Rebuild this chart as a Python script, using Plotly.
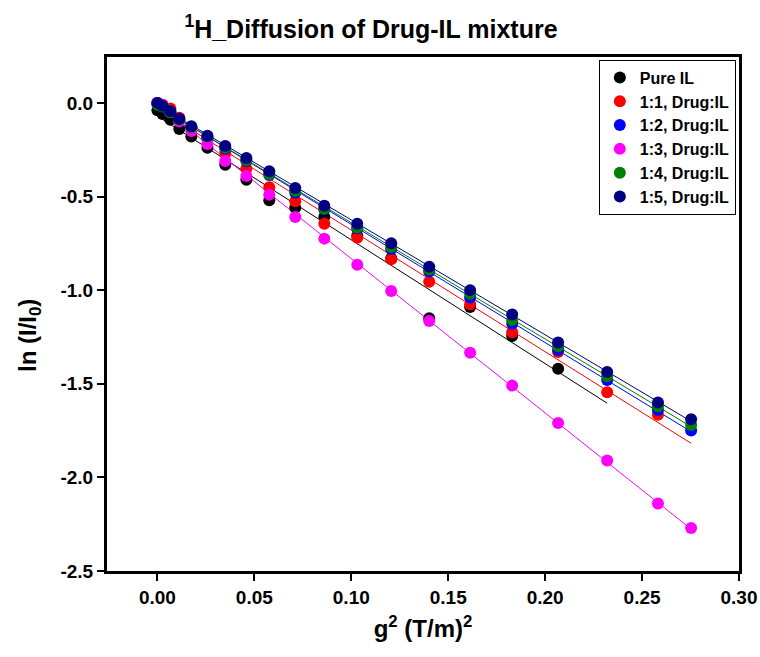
import numpy as np
import plotly.graph_objects as go

# gradient squared values (T/m)^2
g2 = [0.0, 0.0026, 0.0067, 0.0113, 0.0175, 0.0258, 0.0350, 0.0459, 0.0577, 0.0711,
      0.0861, 0.1031, 0.1206, 0.1402, 0.1613, 0.1830, 0.2067, 0.2320, 0.2582, 0.2753]

pure_il = [-0.04, -0.06, -0.09, -0.14, -0.18, -0.24, -0.33, -0.41, -0.52, -0.56,
           -0.61, -0.71, -0.83, -1.15, -1.09, -1.245, -1.42]
r_1_1 = [0.0, -0.01, -0.03, -0.08, -0.13, -0.19, -0.27, -0.35, -0.45, -0.525,
         -0.645, -0.72, -0.835, -0.955, -1.075, -1.225, -1.33, -1.545, -1.665]
r_1_2 = [0.0, -0.02, -0.05, -0.09, -0.13, -0.185, -0.245, -0.31, -0.385, -0.48,
         -0.57, -0.67, -0.78, -0.90, -1.04, -1.18, -1.32, -1.48, -1.64, -1.75]
r_1_3 = [0.0, -0.01, -0.05, -0.10, -0.15, -0.22, -0.31, -0.39, -0.49, -0.61,
         -0.725, -0.865, -1.005, -1.165, -1.335, -1.51, -1.71, -1.91, -2.14, -2.27]
r_1_4 = [-0.01, -0.02, -0.05, -0.09, -0.13, -0.18, -0.24, -0.305, -0.38, -0.47,
         -0.565, -0.665, -0.77, -0.89, -1.02, -1.16, -1.30, -1.46, -1.62, -1.72]
r_1_5 = [0.0, -0.015, -0.045, -0.085, -0.125, -0.175, -0.23, -0.295, -0.365, -0.455,
         -0.55, -0.645, -0.75, -0.875, -1.0, -1.13, -1.28, -1.437, -1.60, -1.69]

names = ["Pure IL", "1:1, Drug:IL", "1:2, Drug:IL", "1:3, Drug:IL", "1:4, Drug:IL", "1:5, Drug:IL"]
series = [pure_il, r_1_1, r_1_2, r_1_3, r_1_4, r_1_5]
colors = ["#000000", "#FF0000", "#0000FF", "#FF00FF", "#008000", "#000080"]
fit_end = [0.2320, 0.2753, 0.2753, 0.2753, 0.2753, 0.2753]

x_ticks = [0, 0.05, 0.1, 0.15, 0.2, 0.25, 0.3]
x_ticktext = ["0.00", "0.05", "0.10", "0.15", "0.20", "0.25", "0.30"]
y_ticks = [0, -0.5, -1.0, -1.5, -2.0, -2.5]
y_ticktext = ["0.0", "-0.5", "-1.0", "-1.5", "-2.0", "-2.5"]

FONT = "Liberation Sans, Arial, sans-serif"

L, R, T, B = 107, 21, 57, 86
W, H = 760, 657
PW, PH = W - L - R, H - T - B

fig = go.Figure()

# linear fit lines
for ys, c, xe in zip(series, colors, fit_end):
    xs = np.array(g2[:len(ys)])
    k, b = np.polyfit(xs, np.array(ys), 1)
    xl = np.array([0.0, xe])
    fig.add_trace(go.Scatter(x=xl, y=k * xl + b, mode="lines",
                             line=dict(color=c, width=1), showlegend=False,
                             hoverinfo="skip"))

for ys, c, n in zip(series, colors, names):
    fig.add_trace(go.Scatter(x=g2[:len(ys)], y=ys, mode="markers", name=n,
                             marker=dict(color=c, size=12, line=dict(width=0))))

axis_common = dict(showline=True, linecolor="black", linewidth=3, mirror=True,
                   ticks="outside", ticklen=7, tickwidth=2, tickcolor="black",
                   showgrid=False, zeroline=False, automargin=False,
                   tickfont=dict(family=FONT, size=19, color="black", weight="bold"))

fig.update_layout(
    width=W, height=H,
    margin=dict(l=L, r=R, t=T, b=B),
    paper_bgcolor="white", plot_bgcolor="white",
    font=dict(family=FONT, color="black"),
    title=dict(text="<b><sup>1</sup>H_Diffusion of Drug-IL mixture</b>",
               x=371 / W, xanchor="center", xref="container",
               y=1 - 29 / H, yanchor="middle",
               font=dict(family=FONT, size=25, color="black")),
    xaxis=dict(range=[-0.026, 0.30], tickvals=x_ticks, ticktext=x_ticktext,
               title=dict(text="<b>g<sup>2</sup> (T/m)<sup>2</sup></b>",
                          font=dict(family=FONT, size=24, color="black"), standoff=14),
               **axis_common),
    yaxis=dict(range=[-2.5, 0.245], tickvals=y_ticks, ticktext=y_ticktext,
               **axis_common),
    annotations=[dict(text="<b>ln (I/I<sub>0</sub>)</b>", textangle=-90,
                      xref="paper", yref="paper",
                      x=(29 - L) / PW, y=(H - B - 336) / PH,
                      xanchor="center", yanchor="middle", showarrow=False,
                      font=dict(family=FONT, size=24, color="black"))],
    legend=dict(x=0.995, y=0.995, xanchor="right", yanchor="top",
                bordercolor="black", borderwidth=1, bgcolor="white",
                font=dict(family=FONT, size=16, color="black", weight="bold"),
                itemsizing="constant", tracegroupgap=0),
    showlegend=True,
)

fig.write_html("out.html")
